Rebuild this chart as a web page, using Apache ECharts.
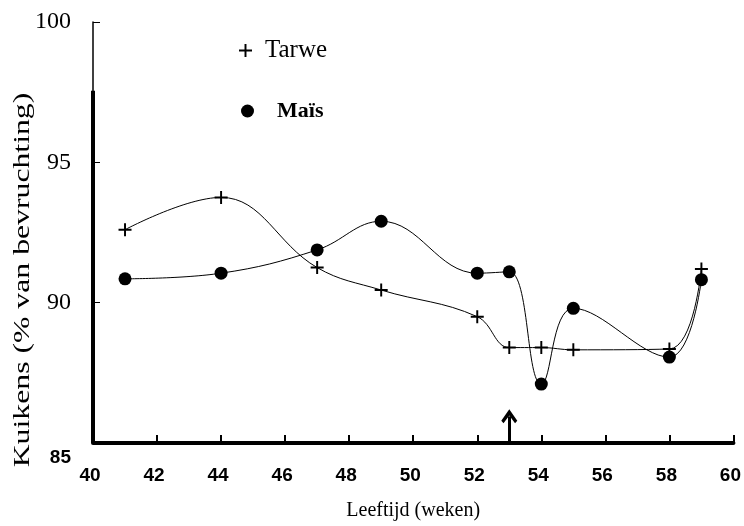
<!DOCTYPE html>
<html><head><meta charset="utf-8">
<script src="https://cdn.jsdelivr.net/npm/echarts@6/dist/echarts.min.js"></script>
<style>html,body{margin:0;padding:0;background:#fff}#c{width:744px;height:526px}</style>
</head><body><div id="c"></div>
<script>
// Data
const weeks = [41, 44, 47, 49, 52, 53, 54, 55, 58, 59];
const tarwe = [92.6, 93.75, 91.25, 90.45, 89.5, 88.4, 88.4, 88.32, 88.35, 91.2];
const mais  = [90.85, 91.05, 91.88, 92.9, 91.05, 91.1, 87.1, 89.8, 88.06, 90.82];
const xRange = [40, 60];
const xStep = 2;
const yRange = [85, 100];
const yStep = 5;
const arrowWeek = 53;
const arrowTop = 85.95;
const thickAxisTop = 97.55;

const plusPath = 'path://M5.1,0 L6.9,0 L6.9,5.1 L12,5.1 L12,6.9 L6.9,6.9 L6.9,12 L5.1,12 L5.1,6.9 L0,6.9 L0,5.1 L5.1,5.1 Z';
const chevronPath = 'path://M0,10 L10,0 L20,10 L17.2,12.4 L10,5.4 L2.8,12.4 Z';

const chart = echarts.init(document.getElementById('c'), null, {renderer: 'canvas'});
const serif = '"Liberation Serif", "Times New Roman", serif';
const narrow = '"Liberation Sans Narrow", "Arial Narrow", sans-serif';

chart.setOption({
  animation: false,
  backgroundColor: '#fff',
  grid: {left: 93, right: 5, top: 22, bottom: 74, containLabel: false},
  legend: [
    {
      left: 234, top: 33, itemWidth: 13, itemHeight: 13,
      data: [{name: 'Tarwe', icon: plusPath}],
      textStyle: {fontFamily: serif, fontSize: 25, color: '#000', padding: [0, 0, 0, 8]}
    },
    {
      left: 236, top: 95, itemWidth: 13, itemHeight: 13,
      data: [{name: 'Maïs', icon: 'circle'}],
      textStyle: {fontFamily: serif, fontSize: 22, fontWeight: 'bold', color: '#000', padding: [0, 0, 0, 18]}
    }
  ],
  xAxis: {
    type: 'value', min: xRange[0], max: xRange[1], interval: xStep,
    name: 'Leeftijd (weken)', nameLocation: 'middle', nameGap: 58,
    nameTextStyle: {fontFamily: serif, fontSize: 20, color: '#000'},
    axisLine: {lineStyle: {color: '#000', width: 4}},
    axisTick: {inside: true, length: 8, lineStyle: {color: '#000', width: 2}},
    axisLabel: {fontFamily: narrow, fontWeight: 'bold', fontSize: 19, color: '#000', margin: 23, padding: [0, 6, 0, 0]},
    splitLine: {show: false}
  },
  yAxis: {
    type: 'value', min: yRange[0], max: yRange[1], interval: yStep,
    axisLine: {show: true, lineStyle: {color: '#000', width: 1.5}},
    axisTick: {show: true, inside: true, length: 7, lineStyle: {color: '#000', width: 1}},
    axisLabel: {
      margin: 22, color: '#000',
      formatter: v => v === 85 ? '{s|' + v + '}' : '{t|' + v + '}',
      rich: {
        t: {fontFamily: serif, fontSize: 24, color: '#000'},
        s: {fontFamily: narrow, fontWeight: 'bold', fontSize: 19, color: '#000', padding: [30, 0, 0, 0]}
      }
    },
    splitLine: {show: false}
  },
  graphic: [{
    type: 'text', x: 23, y: 280, rotation: Math.PI / 2, scaleX: 1.38,
    style: {text: 'Kuikens (% van bevruchting)', font: '23px ' + serif, fill: '#000', align: 'center', verticalAlign: 'middle'}
  }],
  series: [
    {
      name: 'Maïs', type: 'line', smooth: 0.4,
      data: weeks.map((w, i) => [w, mais[i]]),
      symbol: 'circle', symbolSize: 13,
      itemStyle: {color: '#000'},
      lineStyle: {color: '#000', width: 1},
      markLine: {
        silent: true, symbol: ['none', 'none'], label: {show: false},
        lineStyle: {color: '#000', width: 4, type: 'solid'},
        data: [[{coord: [xRange[0], yRange[0]]}, {coord: [xRange[0], thickAxisTop]}]]
      }
    },
    {
      name: 'Tarwe', type: 'line', smooth: 0.4,
      data: weeks.map((w, i) => [w, tarwe[i]]),
      symbol: plusPath, symbolSize: 13,
      itemStyle: {color: '#000'},
      lineStyle: {color: '#000', width: 1},
      markLine: {
        silent: true, symbol: ['none', chevronPath], symbolSize: [16, 14], label: {show: false},
        lineStyle: {color: '#000', width: 3, type: 'solid'},
        data: [[{coord: [arrowWeek, yRange[0]]}, {coord: [arrowWeek, arrowTop]}]]
      }
    }
  ]
});
</script>
</body></html>
